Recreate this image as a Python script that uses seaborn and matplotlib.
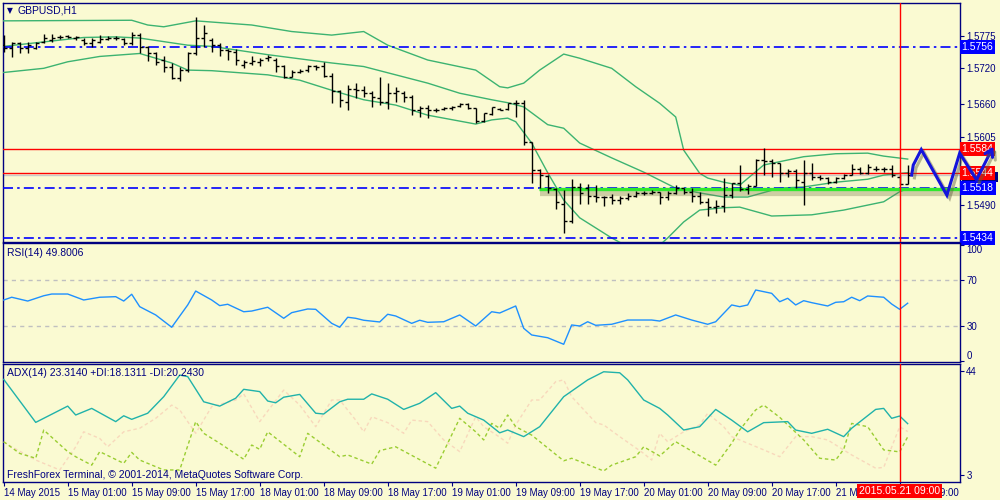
import matplotlib
matplotlib.use("Agg")
import matplotlib.pyplot as plt
import matplotlib.transforms as mtransforms
import matplotlib.patheffects as pe
from matplotlib.patches import Rectangle
import numpy as np
import seaborn as sns

# ---------------- data ----------------
opens = [
    1.5759, 1.5754, 1.5762, 1.5754, 1.5754, 1.5764, 1.5768, 1.5773, 1.5775, 1.5771,
    1.5768, 1.5762, 1.5765, 1.5769, 1.5771, 1.5769, 1.5762, 1.5776, 1.5756, 1.5745,
    1.5734, 1.5723, 1.5703, 1.5717, 1.5745, 1.5771, 1.5768, 1.5759, 1.5751, 1.5748,
    1.5726, 1.5729, 1.5731, 1.5737, 1.5734, 1.5724, 1.5706, 1.5714, 1.5717, 1.5724,
    1.5724, 1.5707, 1.5681, 1.5664, 1.5685, 1.5684, 1.5678, 1.5670, 1.5664, 1.5678,
    1.5679, 1.5671, 1.5649, 1.5653, 1.5650, 1.5651, 1.5653, 1.5657, 1.5660, 1.5653,
    1.5632, 1.5643, 1.5651, 1.5651, 1.5661, 1.5662, 1.5595, 1.5549, 1.5539, 1.5516,
    1.5492, 1.5463, 1.5520, 1.5518, 1.5505, 1.5503, 1.5503, 1.5498, 1.5501, 1.5505,
    1.5510, 1.5510, 1.5512, 1.5503, 1.5509, 1.5518, 1.5512, 1.5505, 1.5494, 1.5486,
    1.5488, 1.5506, 1.5526, 1.5516, 1.5522, 1.5565, 1.5563, 1.5560, 1.5544, 1.5547,
    1.5529, 1.5544, 1.5537, 1.5535, 1.5529, 1.5535, 1.5540, 1.5550, 1.5543, 1.5551,
    1.5551, 1.5551, 1.5537, 1.5525]
highs = [
    1.5776, 1.5765, 1.5765, 1.5765, 1.5765, 1.5778, 1.5778, 1.5776, 1.5776, 1.5775,
    1.5771, 1.5771, 1.5776, 1.5775, 1.5775, 1.5771, 1.5782, 1.5779, 1.5758, 1.5748,
    1.5740, 1.5729, 1.5723, 1.5748, 1.5806, 1.5793, 1.5771, 1.5762, 1.5752, 1.5752,
    1.5734, 1.5741, 1.5737, 1.5743, 1.5737, 1.5726, 1.5717, 1.5718, 1.5726, 1.5726,
    1.5730, 1.5712, 1.5684, 1.5692, 1.5695, 1.5690, 1.5682, 1.5706, 1.5696, 1.5689,
    1.5681, 1.5675, 1.5657, 1.5658, 1.5653, 1.5655, 1.5657, 1.5662, 1.5661, 1.5653,
    1.5645, 1.5655, 1.5653, 1.5662, 1.5667, 1.5667, 1.5596, 1.5551, 1.5540, 1.5518,
    1.5515, 1.5533, 1.5527, 1.5525, 1.5523, 1.5504, 1.5508, 1.5505, 1.5509, 1.5514,
    1.5514, 1.5515, 1.5512, 1.5514, 1.5523, 1.5519, 1.5518, 1.5512, 1.5501, 1.5498,
    1.5535, 1.5527, 1.5557, 1.5525, 1.5567, 1.5585, 1.5567, 1.5560, 1.5550, 1.5550,
    1.5565, 1.5560, 1.5540, 1.5537, 1.5537, 1.5542, 1.5559, 1.5553, 1.5559, 1.5555,
    1.5554, 1.5557, 1.5540, 1.5557]
lows = [
    1.5748, 1.5739, 1.5745, 1.5745, 1.5752, 1.5763, 1.5765, 1.5769, 1.5771, 1.5768,
    1.5759, 1.5756, 1.5762, 1.5767, 1.5767, 1.5759, 1.5759, 1.5745, 1.5733, 1.5726,
    1.5713, 1.5702, 1.5699, 1.5713, 1.5743, 1.5756, 1.5748, 1.5741, 1.5734, 1.5726,
    1.5720, 1.5726, 1.5724, 1.5733, 1.5713, 1.5703, 1.5705, 1.5712, 1.5714, 1.5717,
    1.5706, 1.5662, 1.5654, 1.5649, 1.5670, 1.5672, 1.5654, 1.5658, 1.5651, 1.5664,
    1.5664, 1.5641, 1.5638, 1.5636, 1.5647, 1.5649, 1.5650, 1.5655, 1.5651, 1.5628,
    1.5630, 1.5641, 1.5649, 1.5650, 1.5638, 1.5591, 1.5527, 1.5518, 1.5509, 1.5482,
    1.5443, 1.5460, 1.5492, 1.5491, 1.5494, 1.5488, 1.5492, 1.5492, 1.5498, 1.5503,
    1.5506, 1.5508, 1.5492, 1.5498, 1.5508, 1.5508, 1.5495, 1.5491, 1.5471, 1.5476,
    1.5478, 1.5501, 1.5514, 1.5508, 1.5522, 1.5540, 1.5537, 1.5529, 1.5537, 1.5518,
    1.5490, 1.5532, 1.5531, 1.5525, 1.5527, 1.5533, 1.5540, 1.5542, 1.5542, 1.5547,
    1.5546, 1.5537, 1.5523, 1.5525]
closes = [
    1.5754, 1.5762, 1.5754, 1.5759, 1.5762, 1.5771, 1.5771, 1.5773, 1.5773, 1.5772,
    1.5762, 1.5767, 1.5769, 1.5771, 1.5771, 1.5762, 1.5776, 1.5756, 1.5745, 1.5731,
    1.5723, 1.5703, 1.5717, 1.5745, 1.5771, 1.5780, 1.5759, 1.5751, 1.5750, 1.5734,
    1.5730, 1.5733, 1.5734, 1.5739, 1.5724, 1.5705, 1.5714, 1.5716, 1.5724, 1.5723,
    1.5707, 1.5682, 1.5667, 1.5685, 1.5684, 1.5679, 1.5671, 1.5664, 1.5678, 1.5681,
    1.5672, 1.5650, 1.5653, 1.5650, 1.5650, 1.5653, 1.5655, 1.5660, 1.5653, 1.5632,
    1.5644, 1.5654, 1.5650, 1.5661, 1.5661, 1.5595, 1.5549, 1.5540, 1.5518, 1.5494,
    1.5463, 1.5520, 1.5510, 1.5505, 1.5503, 1.5503, 1.5498, 1.5501, 1.5505, 1.5509,
    1.5510, 1.5512, 1.5503, 1.5509, 1.5518, 1.5512, 1.5505, 1.5494, 1.5486, 1.5488,
    1.5506, 1.5526, 1.5516, 1.5522, 1.5565, 1.5563, 1.5561, 1.5543, 1.5547, 1.5532,
    1.5544, 1.5537, 1.5535, 1.5529, 1.5535, 1.5540, 1.5550, 1.5543, 1.5554, 1.5551,
    1.5551, 1.5540, 1.5525, 1.5540]

bb_upper_bar = [0, 16, 18, 20, 22, 24, 25, 31, 36, 41, 45, 48, 53, 59, 62, 63, 65, 67, 70, 72,
                76, 79, 82, 84, 85, 87, 88, 90, 92, 95, 100, 104, 108, 110, 113]
bb_upper = [1.5800, 1.5801, 1.5793, 1.5790, 1.5795, 1.5800, 1.5799, 1.5793, 1.5782, 1.5776,
            1.5782, 1.5759, 1.5734, 1.5717, 1.5689, 1.5687, 1.5695, 1.5717, 1.5744, 1.5737,
            1.5720, 1.5689, 1.5661, 1.5638, 1.5582, 1.5543, 1.5535, 1.5528, 1.5523, 1.5557,
            1.5571, 1.5576, 1.5577, 1.5572, 1.5567]
bb_mid_bar = [0, 4, 10, 14, 17, 20, 23, 26, 29, 33, 41, 45, 49, 53, 57, 61, 63, 65, 68, 70,
              72, 76, 80, 84, 87, 90, 93, 97, 100, 104, 108, 110, 113]
bb_mid = [1.5757, 1.5763, 1.5772, 1.5773, 1.5771, 1.5765, 1.5759, 1.5757, 1.5751, 1.5743,
          1.5729, 1.5723, 1.5709, 1.5695, 1.5678, 1.5667, 1.5662, 1.5655, 1.5625, 1.5619,
          1.5594, 1.5569, 1.5545, 1.5518, 1.5510, 1.5503, 1.5503, 1.5518, 1.5520, 1.5528,
          1.5533, 1.5540, 1.5544]
bb_low_bar = [0, 5, 8, 12, 17, 19, 21, 23, 26, 33, 37, 41, 45, 49, 53, 59, 61, 63, 64, 66,
              68, 70, 72, 76, 80, 82, 83, 85, 87, 90, 92, 96, 101, 105, 110, 112, 113]
bb_low = [1.5713, 1.5720, 1.5731, 1.5740, 1.5745, 1.5737, 1.5729, 1.5717, 1.5716, 1.5709,
          1.5700, 1.5683, 1.5667, 1.5658, 1.5641, 1.5626, 1.5633, 1.5636, 1.5630, 1.5594,
          1.5544, 1.5498, 1.5468, 1.5434, 1.5405, 1.5422, 1.5434, 1.5461, 1.5481, 1.5485,
          1.5486, 1.5471, 1.5473, 1.5481, 1.5495, 1.5512, 1.5517]

rsi_bar = [0, 1, 3, 5, 6, 8, 10, 12, 14, 15, 16, 17, 19, 21, 23, 24, 26, 27, 28, 30,
           31, 33, 35, 36, 38, 39, 41, 42, 43, 44, 45, 47, 48, 49, 51, 52, 53, 55, 57, 59,
           61, 62, 64, 65, 66, 68, 70, 71, 72, 73, 74, 76, 78, 81, 82, 84, 86, 88, 89, 91,
           92, 93, 94, 96, 97, 98, 99, 100, 101, 103, 104, 105, 106, 107, 108, 110, 111, 112, 113]
rsi_val = [52.6, 55.0, 51.7, 56.3, 57.8, 57.8, 52.6, 55.0, 55.5, 51.7, 57.6, 46.8, 39.6, 28.9, 48.3, 60.4, 52.6, 47.7, 48.9, 42.4,
           43.0, 46.3, 36.7, 41.6, 44.8, 44.5, 32.3, 28.9, 37.6, 36.7, 35.0, 33.5, 40.2, 38.7, 32.3, 35.0, 33.2, 33.7, 39.6, 30.0,
           42.4, 41.3, 47.4, 28.0, 22.2, 19.8, 14.1, 30.9, 30.0, 33.7, 30.6, 31.5, 35.2, 35.2, 34.3, 39.6, 35.2, 31.5, 33.7, 48.3,
           46.8, 48.3, 61.3, 58.4, 51.1, 54.1, 48.3, 52.0, 50.3, 47.4, 50.6, 51.1, 55.0, 52.0, 56.1, 55.0, 49.1, 44.5, 49.8]

adx_bar = [0, 4, 8, 9, 11, 14, 15, 16, 18, 20, 22, 23, 25, 27, 29, 30, 32, 33, 34, 35,
           37, 39, 40, 42, 43, 45, 46, 48, 50, 52, 54, 56, 57, 58, 60, 62, 63, 65, 67, 70,
           73, 75, 77, 78, 80, 82, 83, 85, 87, 89, 91, 93, 95, 98, 99, 101, 103, 105, 106, 109,
           110, 111, 112, 113]
adx_val = [40.7, 23.8, 30.2, 26.7, 29.3, 24.1, 26.4, 25.0, 27.4, 33.9, 42.4, 41.8, 31.9, 30.2, 33.3, 36.8, 35.9, 32.2, 31.5, 33.7,
           34.8, 27.4, 27.1, 31.9, 32.9, 32.9, 35.0, 32.9, 28.9, 31.3, 35.5, 29.3, 30.2, 27.4, 24.7, 19.7, 20.8, 18.2, 22.1, 33.9,
           40.5, 43.7, 43.3, 40.5, 32.6, 29.3, 26.7, 20.8, 22.1, 28.9, 24.7, 20.1, 23.7, 24.1, 20.8, 19.5, 21.1, 18.2, 21.5, 28.9,
           29.3, 25.4, 26.3, 23.3]
pdi_bar = [0, 2, 4, 5, 8, 9, 11, 12, 15, 16, 17, 20, 22, 24, 25, 27, 30, 31, 32, 33,
           37, 38, 42, 43, 46, 47, 49, 54, 57, 59, 60, 61, 62, 63, 64, 66, 70, 71, 75, 76,
           79, 80, 82, 84, 89, 91, 92, 94, 95, 97, 100, 102, 104, 105, 106, 108, 110, 112, 113]
pdi_val = [16.2, 11.6, 9.7, 20.8, 12.3, 10.3, 7.0, 12.3, 7.7, 12.0, 9.0, 5.1, 5.1, 24.1, 19.5, 15.6, 9.3, 14.9, 13.2, 20.1,
           10.3, 19.5, 10.3, 11.0, 7.4, 12.7, 14.2, 5.8, 25.4, 20.1, 16.9, 23.4, 21.5, 26.7, 22.1, 18.8, 8.7, 9.7, 4.7, 7.0,
           10.3, 14.2, 10.6, 16.2, 7.0, 15.6, 20.8, 28.7, 30.6, 25.8, 16.9, 9.7, 9.0, 13.2, 23.4, 22.1, 13.0, 12.2, 18.1]
mdi_bar = [0, 1, 4, 7, 9, 10, 12, 13, 15, 17, 19, 21, 22, 24, 26, 29, 30, 32, 35, 37,
           39, 41, 42, 44, 45, 46, 48, 50, 51, 53, 55, 57, 59, 60, 62, 63, 64, 66, 67, 69,
           70, 71, 74, 75, 77, 80, 81, 82, 83, 85, 87, 88, 90, 91, 95, 97, 99, 101, 103, 106,
           109, 110, 112, 113]
mdi_val = [16.2, 14.2, 9.0, 5.1, 14.2, 20.1, 17.5, 14.2, 20.1, 21.5, 25.4, 30.6, 28.7, 19.5, 30.0, 32.6, 35.0, 24.1, 36.5, 30.6,
           22.1, 32.6, 32.6, 24.7, 20.1, 26.0, 23.7, 19.5, 24.7, 24.1, 16.9, 12.3, 26.0, 22.1, 18.0, 15.6, 22.8, 32.6, 32.6, 39.8,
           40.5, 33.9, 23.7, 22.8, 18.2, 11.6, 9.0, 19.5, 16.2, 20.1, 22.8, 27.4, 22.1, 18.2, 13.0, 10.3, 18.2, 18.2, 16.9, 11.0,
           5.8, 6.1, 22.1, 20.2]

blue_levels = [1.5756, 1.5518, 1.5434]
red_levels = [1.5584, 1.5544]
support_level = 1.5516
support_start_bar = 67
cursor_bar = 112
cursor_label = "2015.05.21 09:00"

forecast_bar = [113.5, 113.7, 114.7, 117.9, 119.5, 121.6, 123.7]
forecast_price = [1.5540, 1.5557, 1.5583, 1.5506, 1.5577, 1.5532, 1.5588]

price_ticks = [1.5775, 1.5720, 1.5660, 1.5605, 1.5490]
time_label_bars = [0, 8, 16, 24, 32, 40, 48, 56, 64, 72, 80, 88, 96, 104, 112]
time_labels = ["14 May 2015", "15 May 01:00", "15 May 09:00", "15 May 17:00",
               "18 May 01:00", "18 May 09:00", "18 May 17:00", "19 May 01:00",
               "19 May 09:00", "19 May 17:00", "20 May 01:00", "20 May 09:00",
               "20 May 17:00", "21 May 01:00", "21 May 09:00"]

# ---------------- style ----------------
BG = "#fafad2"
NAVY = "#000080"
BB_GREEN = "#3cb371"
plt.rcParams["font.family"] = ["Liberation Sans", "DejaVu Sans"]

fig = plt.figure(figsize=(10, 5), dpi=100, facecolor=BG)
W, H = 1000.0, 500.0


def axes_px(top, bottom):
    return fig.add_axes([3 / W, 1 - bottom / H, 957 / W, (bottom - top) / H])


ax_main = axes_px(3, 242)
ax_rsi = axes_px(243.3, 361.7)
ax_adx = axes_px(364, 482.3)
XL = (-0.09, 119.54)

for ax in (ax_main, ax_rsi, ax_adx):
    ax.set_facecolor(BG)
    for s in ax.spines.values():
        s.set_color(NAVY)
        s.set_linewidth(1.0)
    ax.set_xlim(*XL)
    ax.yaxis.tick_right()
    ax.tick_params(axis="y", colors=NAVY, labelcolor=NAVY, labelsize=7,
                   length=3, width=0.8, pad=1.5)
    ax.tick_params(axis="x", bottom=False, labelbottom=False)
    ax.axvline(cursor_bar, color="red", lw=1, zorder=6)

# ---------------- main price panel ----------------
bars = np.arange(len(closes))
ax_main.set_ylim(1.54272, 1.58301)

for bx, by in ((bb_upper_bar, bb_upper), (bb_mid_bar, bb_mid), (bb_low_bar, bb_low)):
    sns.lineplot(x=bx, y=by, ax=ax_main, color=BB_GREEN, lw=1,
                 estimator=None, sort=False, legend=False, zorder=3)

ax_main.axhline(closes[-1], color="#c8c8c8", lw=1, zorder=2)
for lvl in red_levels:
    ax_main.axhline(lvl, color="#ff0000", lw=1, zorder=3)
for lvl in blue_levels:
    ax_main.axhline(lvl, color="#0000ff", lw=1.2, ls=(0, (6, 2.5, 1.5, 2.5)), zorder=3)

ax_main.plot([support_start_bar - 0.1, XL[1]], [support_level, support_level],
             color="#2ee82e", lw=2.4, solid_capstyle="butt", zorder=4,
             path_effects=[pe.SimpleLineShadow(offset=(1, -2.5), shadow_color="#7a7a50",
                                               alpha=0.35, linewidth=4.5),
                           pe.Normal()])

ax_main.vlines(bars, lows, highs, color="black", lw=1.0, zorder=5)
ax_main.hlines(opens, bars - 0.375, bars, color="black", lw=1.0, zorder=5)
ax_main.hlines(closes, bars, bars + 0.375, color="black", lw=1.0, zorder=5)

ax_main.set_yticks(price_ticks)
ax_main.set_yticklabels([f"{p:.4f}" for p in price_ticks])
ax_main.set_xlabel("")
ax_main.set_ylabel("")

trans = mtransforms.blended_transform_factory(ax_main.transAxes, ax_main.transData)
# current bid marker box, mostly hidden behind the red level label
ax_main.add_patch(Rectangle((1.0017, closes[-1] - 0.0012), 0.0385, 0.0018,
                            transform=trans, fc=NAVY, ec="none", clip_on=False, zorder=7))
box_kw = dict(boxstyle="square,pad=0.18", ec="none")
for lvl in blue_levels:
    ax_main.text(1.0017, lvl, f"{lvl:.4f}", transform=trans, ha="left", va="center",
                 color="white", fontsize=7.5, clip_on=False, zorder=8,
                 bbox=dict(fc="#0000ff", **box_kw))
for lvl in red_levels:
    ax_main.text(1.0017, lvl, f"{lvl:.4f}", transform=trans, ha="left", va="center",
                 color="white", fontsize=7.5, clip_on=False, zorder=8,
                 bbox=dict(fc="#ff0000", **box_kw))

arrow_fx = [pe.SimpleLineShadow(offset=(2, -2), shadow_color="#606040", alpha=0.45),
            pe.Normal()]
ax_main.plot(forecast_bar[:-1], forecast_price[:-1], color="#1414dc", lw=2.2,
             clip_on=False, zorder=9, solid_joinstyle="miter", path_effects=arrow_fx)
ax_main.annotate("", xy=(forecast_bar[-1], forecast_price[-1]),
                 xytext=(forecast_bar[-2], forecast_price[-2]),
                 annotation_clip=False, zorder=9,
                 arrowprops=dict(arrowstyle="->,head_length=0.5,head_width=0.3",
                                 color="#1414dc", lw=2.2, shrinkA=0, shrinkB=0,
                                 path_effects=arrow_fx))

# ---------------- RSI panel ----------------
ax_rsi.set_ylim(-1.04, 101.9)
for lvl in (70, 30):
    ax_rsi.axhline(lvl, color="#c0c0c0", lw=1, ls=(0, (3, 3)), zorder=2)
sns.lineplot(x=rsi_bar, y=rsi_val, ax=ax_rsi, color="#1e90ff", lw=1,
             estimator=None, sort=False, legend=False, zorder=4)
ax_rsi.set_yticks([100, 70, 30, 0])
ax_rsi.set_yticklabels(["100", "70", "30", "0"])
labs = ax_rsi.get_yticklabels()
labs[0].set_va("top")
labs[3].set_va("bottom")
ax_rsi.set_xlabel("")
ax_rsi.set_ylabel("")

# ---------------- ADX panel ----------------
ax_adx.set_ylim(0.25, 46.75)
sns.lineplot(x=mdi_bar, y=mdi_val, ax=ax_adx, color="#f8d8bc", lw=1,
             estimator=None, sort=False, legend=False, zorder=3, linestyle=(0, (2.5, 2)))
sns.lineplot(x=pdi_bar, y=pdi_val, ax=ax_adx, color="#9acd32", lw=1,
             estimator=None, sort=False, legend=False, zorder=3, linestyle=(0, (2.5, 2)))
sns.lineplot(x=adx_bar, y=adx_val, ax=ax_adx, color="#20b2aa", lw=1,
             estimator=None, sort=False, legend=False, zorder=4)
ax_adx.set_yticks([44, 3])
ax_adx.set_yticklabels(["44", "3"])
ax_adx.set_xlim(*XL)
ax_adx.set_xticks(time_label_bars)
ax_adx.set_xticklabels(time_labels, ha="left")
ax_adx.tick_params(axis="x", bottom=True, labelbottom=True, length=3, width=0.8,
                   color=NAVY, labelcolor=NAVY, labelsize=7, pad=0.8)
ax_adx.set_xlabel("")
ax_adx.set_ylabel("")

tr_adx = mtransforms.blended_transform_factory(ax_adx.transData, ax_adx.transAxes)
ax_adx.text(cursor_bar, -0.073, cursor_label, transform=tr_adx, ha="center", va="center",
            color="white", fontsize=7.5, clip_on=False, zorder=10,
            bbox=dict(boxstyle="square,pad=0.2", fc="#ff0000", ec="none"))

# ---------------- texts ----------------
fig.text(7 / W, 1 - 10.5 / H, "\u25bc", color=NAVY, fontsize=5.5, va="center", ha="left",
         family=["DejaVu Sans"])
fig.text(18 / W, 1 - 10.5 / H, "GBPUSD,H1", color=NAVY, fontsize=7.5, va="center", ha="left")
fig.text(7 / W, 1 - 252.5 / H, "RSI(14) 49.8006", color=NAVY, fontsize=7.5, va="center", ha="left")
fig.text(7 / W, 1 - 373.5 / H, "ADX(14) 23.3140 +DI:18.1311 -DI:20.2430", color=NAVY,
         fontsize=7.5, va="center", ha="left")
fig.text(7 / W, 1 - 474.5 / H, "FreshForex Terminal, \u00a9 2001-2014, MetaQuotes Software Corp.",
         color=NAVY, fontsize=7.5, va="center", ha="left")

fig.savefig("out.png", dpi=100, facecolor=BG)
